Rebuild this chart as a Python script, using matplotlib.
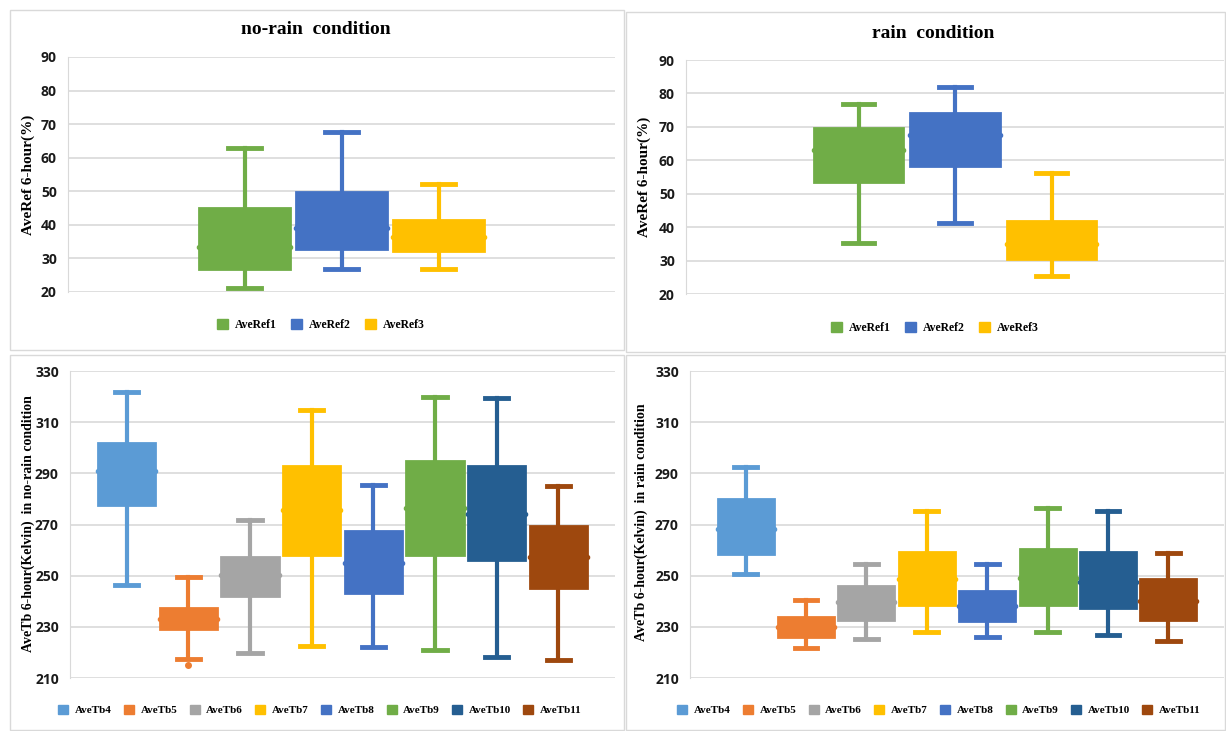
import matplotlib
matplotlib.use("Agg")
import matplotlib.pyplot as plt
from matplotlib.patches import Patch, Rectangle

# ---------------- data ----------------
ref_labels = ["AveRef1", "AveRef2", "AveRef3"]
ref_colors = ["#70AD47", "#4472C4", "#FFC000"]
# whislo, q1, med, q3, whishi
ref_norain_lo = [21.3, 26.9, 26.9]
ref_norain_q1 = [26.9, 32.7, 32.2]
ref_norain_med = [33.4, 39.1, 36.4]
ref_norain_q3 = [45.0, 49.9, 41.4]
ref_norain_hi = [63.0, 67.8, 52.2]

ref_rain_lo = [35.2, 41.2, 25.5]
ref_rain_q1 = [53.5, 58.4, 30.6]
ref_rain_med = [63.1, 67.5, 35.0]
ref_rain_q3 = [69.6, 74.2, 41.9]
ref_rain_hi = [76.9, 81.8, 56.2]

tb_labels = ["AveTb4", "AveTb5", "AveTb6", "AveTb7", "AveTb8", "AveTb9", "AveTb10", "AveTb11"]
tb_colors = ["#5B9BD5", "#ED7D31", "#A5A5A5", "#FFC000", "#4472C4", "#70AD47", "#255E91", "#9E480E"]
tb_norain_lo = [246.5, 217.4, 219.9, 222.4, 222.0, 221.0, 218.3, 216.9]
tb_norain_q1 = [277.7, 229.2, 242.2, 257.9, 243.3, 257.9, 256.2, 245.3]
tb_norain_med = [290.9, 233.2, 250.3, 275.5, 254.9, 276.3, 274.2, 257.2]
tb_norain_q3 = [301.8, 237.5, 257.3, 293.0, 267.4, 294.9, 292.8, 269.3]
tb_norain_hi = [321.8, 249.4, 271.7, 314.6, 285.5, 319.7, 319.3, 284.9]
tb_norain_fliers = [[], [215.2], [], [], [], [], [], []]

tb_rain_lo = [250.6, 221.6, 225.4, 228.1, 226.2, 227.9, 227.0, 224.6]
tb_rain_q1 = [258.3, 226.2, 232.8, 238.7, 232.2, 238.4, 237.3, 232.7]
tb_rain_med = [268.2, 229.8, 239.6, 248.7, 238.3, 249.0, 247.7, 240.1]
tb_rain_q3 = [280.0, 233.9, 246.1, 259.3, 244.0, 260.5, 259.2, 248.7]
tb_rain_hi = [292.4, 240.5, 254.7, 275.2, 254.6, 276.6, 275.2, 258.7]

W, H = 1226, 731
fig = plt.figure(figsize=(W / 100, H / 100), dpi=100)

SERIF = "Liberation Serif"
TICKFONT = "Open Sans"


def fx(x):
    return x / W


def fy(y):
    return 1 - y / H


def add_axes(x0, x1, ytop, ybot):
    return fig.add_axes([fx(x0), fy(ybot), fx(x1 - x0), (ybot - ytop) / H])


def panel_border(x0, y0, x1, y1):
    fig.patches.append(Rectangle((fx(x0), fy(y1)), fx(x1 - x0), (y1 - y0) / H,
                                 transform=fig.transFigure, fill=False,
                                 edgecolor="#D9D9D9", linewidth=1.0))


def draw(ax, lo, q1, med, q3, hi, colors, fliers, ylim, yticks, width, capw, spacing_px, plot_px):
    n = len(lo)
    for i in range(n):
        st = dict(whislo=lo[i], q1=q1[i], med=med[i], q3=q3[i], whishi=hi[i],
                  fliers=fliers[i] if fliers else [])
        c = colors[i]
        ax.bxp([st], positions=[i], widths=width, patch_artist=True, showfliers=True,
               boxprops=dict(facecolor=c, edgecolor=c, linewidth=2),
               medianprops=dict(color=c, linewidth=2),
               whiskerprops=dict(color=c, linewidth=3),
               capprops=dict(color=c, linewidth=3.5),
               capwidths=capw,
               flierprops=dict(marker="o", markerfacecolor=c, markeredgecolor=c, markersize=4),
               manage_ticks=False)
        # median marker dots at box edges
        ax.plot([i - width / 2, i + width / 2], [med[i], med[i]], "o", color=c, markersize=3)
    half = plot_px / spacing_px / 2
    c0 = (n - 1) / 2
    ax.set_xlim(c0 - half, c0 + half)
    ax.set_ylim(*ylim)
    ax.set_yticks(yticks)
    ax.set_xticks([])
    ax.grid(axis="y", color="#D9D9D9", linewidth=1.2)
    ax.set_axisbelow(True)
    for s in ["top", "right", "bottom"]:
        ax.spines[s].set_visible(False)
    ax.spines["left"].set_color("#D9D9D9")
    ax.tick_params(axis="y", length=0, pad=8)
    for lab in ax.get_yticklabels():
        lab.set_fontfamily(TICKFONT)
        lab.set_fontweight("bold")
        lab.set_fontsize(10)
        lab.set_color("#1A1A1A")


def legend(labels, colors, cx, cy, ncol, colsp, size):
    handles = [Patch(facecolor=c, edgecolor=c, label=l) for l, c in zip(labels, colors)]
    fig.legend(handles=handles, loc="center", bbox_to_anchor=(fx(cx), fy(cy)), ncol=ncol,
               frameon=False, prop=dict(family=SERIF, weight="bold", size=size),
               handlelength=0.9, handleheight=0.9, handletextpad=0.6, columnspacing=colsp,
               borderpad=0.2)


# panel borders
panel_border(10, 10, 624, 350)
panel_border(626, 12, 1225, 352)
panel_border(10, 355, 624, 730)
panel_border(626, 355, 1225, 730)

# ---- top-left ----
ax1 = add_axes(68, 615, 57, 292)
draw(ax1, ref_norain_lo, ref_norain_q1, ref_norain_med, ref_norain_q3, ref_norain_hi,
     ref_colors, None, (20, 90), range(20, 91, 10), 0.93, 0.33, 97, 547)
fig.text(fx(316), fy(30), "no-rain  condition", ha="center", va="center",
         family=SERIF, weight="bold", size=14)
fig.text(fx(28), fy(175), "AveRef 6-hour(%)", rotation=90, ha="center", va="center",
         family=SERIF, weight="bold", size=11)
legend(ref_labels, ref_colors, 321, 325, 3, 1.2, 8.5)

# ---- top-right ----
ax2 = add_axes(686, 1224, 60, 294)
draw(ax2, ref_rain_lo, ref_rain_q1, ref_rain_med, ref_rain_q3, ref_rain_hi,
     ref_colors, None, (20, 90), range(20, 91, 10), 0.93, 0.33, 96.5, 538)
fig.text(fx(933), fy(33), "rain  condition", ha="center", va="center",
         family=SERIF, weight="bold", size=14)
fig.text(fx(644), fy(177), "AveRef 6-hour(%)", rotation=90, ha="center", va="center",
         family=SERIF, weight="bold", size=11)
legend(ref_labels, ref_colors, 935, 328, 3, 1.2, 8.5)

# ---- bottom-left ----
ax3 = add_axes(70, 615, 371, 678)
draw(ax3, tb_norain_lo, tb_norain_q1, tb_norain_med, tb_norain_q3, tb_norain_hi,
     tb_colors, tb_norain_fliers, (210, 330), range(210, 331, 20), 0.93, 0.38, 61.7, 545)
fig.text(fx(28), fy(524), "AveTb 6-hour(Kelvin)  in no-rain condition", rotation=90,
         ha="center", va="center", family=SERIF, weight="bold", size=10)
legend(tb_labels, tb_colors, 320, 710, 8, 1.1, 8)

# ---- bottom-right ----
ax4 = add_axes(690, 1224, 371, 678)
draw(ax4, tb_rain_lo, tb_rain_q1, tb_rain_med, tb_rain_q3, tb_rain_hi,
     tb_colors, None, (210, 330), range(210, 331, 20), 0.93, 0.38, 60.4, 534)
fig.text(fx(641), fy(522), "AveTb 6-hour(Kelvin)  in rain condition", rotation=90,
         ha="center", va="center", family=SERIF, weight="bold", size=10)
legend(tb_labels, tb_colors, 939, 710, 8, 1.1, 8)

fig.savefig("out.png", dpi=100)
